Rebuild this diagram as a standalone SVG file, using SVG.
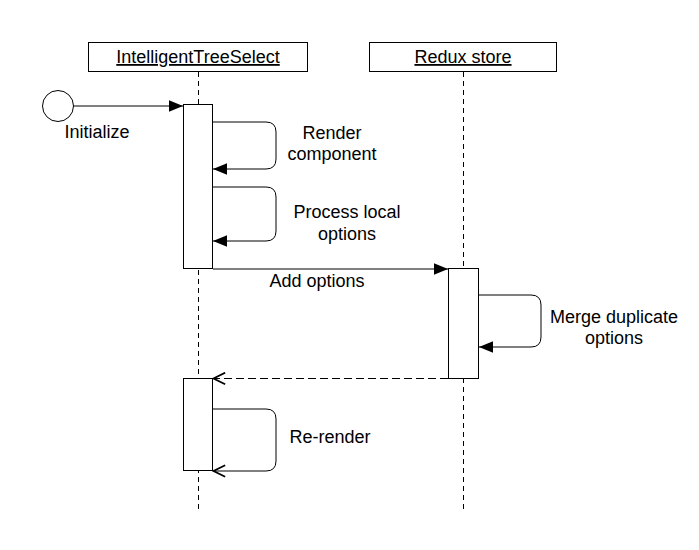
<svg xmlns="http://www.w3.org/2000/svg" width="699" height="550" viewBox="0 0 699 550">
<style>
.t{font-family:"Liberation Sans",Arial,sans-serif;font-size:18px;fill:#000;text-anchor:middle}
.box{fill:#fff;stroke:#000;stroke-width:1}
.life{stroke:#000;stroke-width:1;stroke-dasharray:5 4;fill:none}
.msg{stroke:#000;stroke-width:1;fill:none}
</style>
<defs>
<marker id="fa" markerUnits="userSpaceOnUse" markerWidth="14" markerHeight="12" refX="12" refY="5" orient="auto" viewBox="0 0 12 10">
<path d="M0,0 L12,5 L0,10 Z" fill="#000"/>
</marker>
<marker id="oa" markerUnits="userSpaceOnUse" markerWidth="14" markerHeight="14" refX="11" refY="6" orient="auto" viewBox="0 0 12 12">
<path d="M1,1 L11,6 L1,11" fill="none" stroke="#000" stroke-width="1.5"/>
</marker>
</defs>
<rect width="699" height="550" fill="#fff"/>
<g id="lifelines">
<line class="life" x1="198.5" y1="72" x2="198.5" y2="511"/>
<line class="life" x1="463.5" y1="72" x2="463.5" y2="511"/>
</g>
<g id="node-its">
<rect class="box" x="88.5" y="42.5" width="219" height="29"/>
<text class="t" x="198" y="63" text-decoration="underline">IntelligentTreeSelect</text>
</g>
<g id="node-redux">
<rect class="box" x="369.5" y="42.5" width="187" height="29"/>
<text class="t" x="463" y="63" text-decoration="underline">Redux store</text>
</g>
<g id="node-start">
<circle cx="58" cy="106" r="15.5" fill="#fff" stroke="#000" stroke-width="1"/>
</g>
<g id="act1"><rect class="box" x="183.5" y="104.5" width="29" height="164"/></g>
<g id="act2"><rect class="box" x="448.5" y="268.5" width="30" height="110"/></g>
<g id="act3"><rect class="box" x="183.5" y="378.5" width="29" height="92"/></g>
<g id="connectors">
<path class="msg" d="M73.5,106 H183" marker-end="url(#fa)"/>
<path class="msg" d="M213,122 H266 Q276,122 276,132 V159 Q276,169 266,169 H213" marker-end="url(#fa)"/>
<path class="msg" d="M213,187 H266 Q276,187 276,197 V231 Q276,241 266,241 H213" marker-end="url(#fa)"/>
<path class="msg" d="M213,269 H448" marker-end="url(#fa)"/>
<path class="msg" d="M479,295 H531 Q541,295 541,305 V337 Q541,347 531,347 H479" marker-end="url(#fa)"/>
<path class="msg" d="M448,378.5 H213.5" stroke-dasharray="8 4" marker-end="url(#oa)"/>
<path class="msg" d="M213,409 H266 Q276,409 276,419 V461 Q276,471 266,471 H213.5" marker-end="url(#oa)"/>
</g>
<g id="labels">
<text class="t" x="97" y="138">Initialize</text>
<text class="t" x="332" y="139">Render</text>
<text class="t" x="332" y="160">component</text>
<text class="t" x="347" y="218">Process local</text>
<text class="t" x="347" y="240">options</text>
<text class="t" x="317" y="287">Add options</text>
<text class="t" x="614" y="323">Merge duplicate</text>
<text class="t" x="614" y="344">options</text>
<text class="t" x="330" y="443">Re-render</text>
</g>
</svg>
